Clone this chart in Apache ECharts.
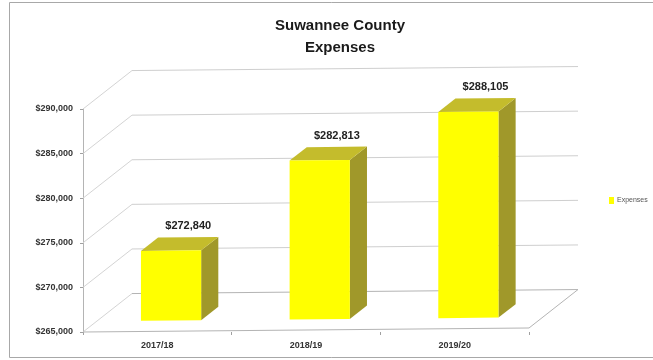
<!DOCTYPE html>
<html>
<head>
<meta charset="utf-8">
<script src="https://cdn.jsdelivr.net/npm/echarts@6/dist/echarts.min.js"></script>
<style>
  html, body { margin: 0; padding: 0; background: #ffffff; }
  #chart { width: 653px; height: 360px; }
</style>
</head>
<body>
<div id="chart"></div>
<script>
// Fiscal years and total expenses
const categories = ['2017/18', '2018/19', '2019/20'];
const expenses = [272840, 282813, 288105];

// Value axis range and tick spacing
const Y_MIN = 265000;
const Y_MAX = 290000;
const Y_STEP = 5000;

// Oblique 3D projection: full depth offset, slight floor tilt
const DX = 49;
const DY = -38;
const TILT = -0.009;
const BAR_F0 = 0.28;   // bar front depth fraction
const BAR_F1 = 0.63;   // bar back depth fraction
const BAR_FRAC = 0.405;

const money = v => '$' + v.toLocaleString('en-US');

function project(cs, x, y, f) {
  const px = x + f * DX;
  return [px, y + f * DY + (px - cs.x) * TILT];
}

function line(p1, p2, color, width) {
  return {
    type: 'line',
    shape: { x1: p1[0], y1: p1[1], x2: p2[0], y2: p2[1] },
    style: { stroke: color, lineWidth: width || 1 },
    silent: true
  };
}

// Back wall gridlines, side wall and floor outline
function renderFrame(params, api) {
  const cs = params.coordSys;
  const xl = cs.x, xr = cs.x + cs.width;
  const children = [];
  for (let v = Y_MIN; v <= Y_MAX; v += Y_STEP) {
    const y = api.coord([0, v])[1];
    const col = v === Y_MIN ? '#b4b4b4' : '#cfcfcf';
    children.push(line(project(cs, xl, y, 1), project(cs, xr, y, 1), col, 1));
    children.push(line(project(cs, xl, y, 0), project(cs, xl, y, 1), '#d4d4d4', 1));
  }
  const y0 = api.coord([0, Y_MIN])[1];
  children.push(line(project(cs, xl, y0, 0), project(cs, xr, y0, 0), '#b4b4b4', 1));
  children.push(line(project(cs, xr, y0, 0), project(cs, xr, y0, 1), '#b4b4b4', 1));
  return { type: 'group', children: children };
}

// Extruded column with its value label
function renderBar(params, api) {
  const cs = params.coordSys;
  const i = api.value(0);
  const v = api.value(1);
  const cx = api.coord([i, v])[0];
  const yTop = api.coord([i, v])[1];
  const yBase = api.coord([i, Y_MIN])[1];
  const w = api.size([1, 0])[0] * BAR_FRAC;
  const xl = cx - w / 2, xr = cx + w / 2;

  const A = project(cs, xl, yTop, BAR_F0);
  const B = project(cs, xr, yTop, BAR_F0);
  const C = project(cs, xr, yBase, BAR_F0);
  const D = project(cs, xl, yBase, BAR_F0);
  const A1 = project(cs, xl, yTop, BAR_F1);
  const B1 = project(cs, xr, yTop, BAR_F1);
  const C1 = project(cs, xr, yBase, BAR_F1);
  const labelPt = project(cs, cx, yTop, BAR_F1);

  return {
    type: 'group',
    children: [
      { type: 'polygon', shape: { points: [B, B1, C1, C] }, style: { fill: '#a0982a' } },
      { type: 'polygon', shape: { points: [A, A1, B1, B] }, style: { fill: '#c4bc2c' } },
      { type: 'polygon', shape: { points: [A, B, C, D] }, style: { fill: api.visual('color') } },
      {
        type: 'text',
        x: labelPt[0],
        y: labelPt[1] - 11,
        style: {
          text: money(v),
          fill: '#222222',
          font: 'bold 11px "Liberation Sans", Arial, sans-serif',
          align: 'center',
          verticalAlign: 'middle'
        }
      }
    ]
  };
}

const chart = echarts.init(document.getElementById('chart'), null, { renderer: 'canvas' });

chart.setOption({
  backgroundColor: '#ffffff',
  animation: false,
  title: {
    text: 'Suwannee County\nExpenses',
    left: 335,
    top: 10,
    textAlign: 'center',
    textStyle: {
      fontFamily: '"Liberation Sans", Arial, sans-serif',
      fontSize: 15,
      fontWeight: 'bold',
      color: '#1a1a1a',
      lineHeight: 22
    }
  },
  legend: {
    data: [{ name: 'Expenses', icon: 'rect' }],
    left: 609,
    top: 197,
    orient: 'vertical',
    padding: 0,
    itemWidth: 5,
    itemHeight: 7,
    itemGap: 4,
    textStyle: {
      fontFamily: '"Liberation Sans", Arial, sans-serif',
      fontSize: 7,
      color: '#555555',
      padding: [0, 0, 0, -2]
    }
  },
  graphic: [
    {
      type: 'rect',
      shape: { x: 9.5, y: 2.5, width: 700, height: 355 },
      style: { fill: 'none', stroke: '#a8a8a8', lineWidth: 1 },
      silent: true,
      z: -10
    }
  ],
  grid: { left: 83, right: 124, top: 109, bottom: 28 },
  xAxis: {
    type: 'category',
    data: categories,
    axisLine: { show: false },
    axisTick: { show: true, length: 3, interval: 0, lineStyle: { color: '#a0a0a0' } },
    axisLabel: {
      margin: 9,
      fontFamily: '"Liberation Sans", Arial, sans-serif',
      fontSize: 9,
      fontWeight: 'bold',
      color: '#333333'
    },
    splitLine: { show: false }
  },
  yAxis: {
    type: 'value',
    min: Y_MIN,
    max: Y_MAX,
    interval: Y_STEP,
    axisLine: { show: true, lineStyle: { color: '#b4b4b4' } },
    axisTick: { show: true, length: 3, lineStyle: { color: '#a0a0a0' } },
    axisLabel: {
      margin: 10,
      formatter: money,
      fontFamily: '"Liberation Sans", Arial, sans-serif',
      fontSize: 9,
      fontWeight: 'bold',
      color: '#333333'
    },
    splitLine: { show: false }
  },
  series: [
    {
      name: 'frame',
      type: 'custom',
      renderItem: renderFrame,
      data: [[0, Y_MIN]],
      encode: { x: 0, y: 1 },
      silent: true,
      z: 1
    },
    {
      name: 'Expenses',
      type: 'custom',
      renderItem: renderBar,
      data: expenses.map((v, i) => [i, v]),
      encode: { x: 0, y: 1 },
      itemStyle: { color: '#ffff00' },
      z: 5
    }
  ]
});
</script>
</body>
</html>
